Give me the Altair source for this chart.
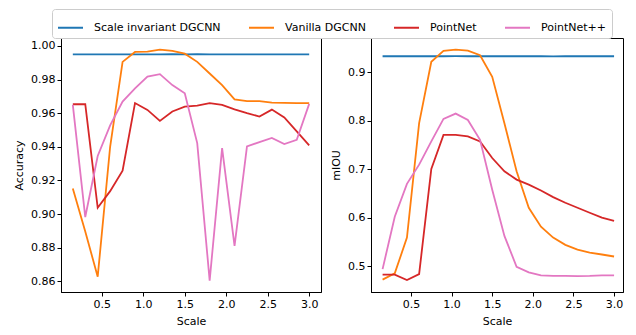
import altair as alt
import pandas as pd

scale = [0.15, 0.3, 0.45, 0.6, 0.75, 0.9, 1.05, 1.2, 1.35, 1.5,
         1.65, 1.8, 1.95, 2.1, 2.25, 2.4, 2.55, 2.7, 2.85, 3.0]

series = ["Scale invariant DGCNN", "Vanilla DGCNN", "PointNet", "PointNet++"]
colors = ["#1f77b4", "#ff7f0e", "#d62728", "#e377c2"]

acc_si = [0.9950, 0.9950, 0.9949, 0.9950, 0.9950, 0.9949, 0.9950, 0.9950, 0.9951, 0.9950,
          0.9951, 0.9949, 0.9950, 0.9949, 0.9950, 0.9950, 0.9949, 0.9950, 0.9950, 0.9950]
acc_vanilla = [0.9151, 0.8896, 0.8627, 0.9400, 0.9905, 0.9964, 0.9966, 0.9978, 0.9970, 0.9954,
               0.9905, 0.9836, 0.9767, 0.9682, 0.9672, 0.9672, 0.9663, 0.9661, 0.9660, 0.9660]
acc_pointnet = [0.9653, 0.9653, 0.9037, 0.9136, 0.9258, 0.9660, 0.9619, 0.9554, 0.9610, 0.9639,
                0.9645, 0.9659, 0.9649, 0.9623, 0.9600, 0.9580, 0.9621, 0.9574, 0.9491, 0.9408]
acc_pp = [0.9649, 0.8982, 0.9345, 0.9527, 0.9669, 0.9747, 0.9817, 0.9832, 0.9767, 0.9718,
          0.9422, 0.8604, 0.9392, 0.8811, 0.9402, 0.9428, 0.9453, 0.9416, 0.9441, 0.9655]

miou_si = [0.9335, 0.9335, 0.9335, 0.9335, 0.9335, 0.9335, 0.9336, 0.9335, 0.9335, 0.9335,
           0.9335, 0.9335, 0.9335, 0.9335, 0.9334, 0.9335, 0.9335, 0.9335, 0.9335, 0.9335]
miou_vanilla = [0.4723, 0.4852, 0.5590, 0.7953, 0.9220, 0.9445, 0.9472, 0.9452, 0.9356, 0.8910,
                0.7953, 0.6960, 0.6207, 0.5817, 0.5591, 0.5441, 0.5345, 0.5283, 0.5242, 0.5201]
miou_pointnet = [0.4825, 0.4825, 0.4715, 0.4838, 0.7008, 0.7713, 0.7713, 0.7680, 0.7577, 0.7234,
                 0.6960, 0.6789, 0.6686, 0.6563, 0.6427, 0.6310, 0.6207, 0.6105, 0.6002, 0.5934]
miou_pp = [0.4940, 0.6023, 0.6700, 0.7097, 0.7577, 0.8041, 0.8151, 0.8021, 0.7610, 0.6580,
           0.5626, 0.4990, 0.4873, 0.4810, 0.4800, 0.4800, 0.4797, 0.4800, 0.4810, 0.4810]

x_ticks = [0.5, 1.0, 1.5, 2.0, 2.5, 3.0]
acc_ticks = [0.86, 0.88, 0.90, 0.92, 0.94, 0.96, 0.98, 1.00]
miou_ticks = [0.5, 0.6, 0.7, 0.8, 0.9]


def long(vals_list):
    rows = []
    for name, vals in zip(series, vals_list):
        for x, v in zip(scale, vals):
            rows.append({"Scale": x, "value": v, "Model": name})
    return pd.DataFrame(rows)


df_acc = long([acc_si, acc_vanilla, acc_pointnet, acc_pp])
df_miou = long([miou_si, miou_vanilla, miou_pointnet, miou_pp])

color = alt.Color(
    "Model:N",
    scale=alt.Scale(domain=series, range=colors),
    legend=alt.Legend(
        title=None, orient="none", legendX=-9, legendY=-29,
        direction="horizontal", columns=4,
        symbolType="stroke", symbolSize=625, symbolStrokeWidth=2,
        labelFontSize=11, labelFont="DejaVu Sans", labelColor="black",
        strokeColor="#cccccc", cornerRadius=3, padding=5, fillColor="white",
        columnPadding=24, labelOffset=10,
    ),
)

left = alt.Chart(df_acc).mark_line(strokeWidth=1.8, clip=True).encode(
    x=alt.X("Scale:Q", scale=alt.Scale(domain=[0.0075, 3.1425], nice=False, zero=False),
            axis=alt.Axis(values=x_ticks, format=".1f", title="Scale")),
    y=alt.Y("value:Q", scale=alt.Scale(domain=[0.8536, 1.0047], nice=False, zero=False),
            axis=alt.Axis(values=acc_ticks, format=".2f", title="Accuracy")),
    color=color,
).properties(width=260, height=254)

right = alt.Chart(df_miou).mark_line(strokeWidth=1.8, clip=True).encode(
    x=alt.X("Scale:Q", scale=alt.Scale(domain=[0.0075, 3.11], nice=False, zero=False),
            axis=alt.Axis(values=x_ticks, format=".1f", title="Scale")),
    y=alt.Y("value:Q", scale=alt.Scale(domain=[0.4468, 0.9712], nice=False, zero=False),
            axis=alt.Axis(values=miou_ticks, format=".1f", title="mIOU")),
    color=color,
).properties(width=252, height=254)

chart = alt.hconcat(left, right, spacing=8).properties(
    padding={"left": 5, "top": 0, "right": 0, "bottom": 0}
).configure_view(
    stroke="black", strokeWidth=1
).configure_axis(
    grid=False, domainColor="black", tickColor="black", labelColor="black",
    titleColor="black", labelFont="DejaVu Sans", titleFont="DejaVu Sans",
    labelFontSize=11, titleFontSize=11, titleFontWeight="normal",
    tickSize=4, labelPadding=2, titlePadding=6,
)

chart.save("out.html", embed_options={"renderer": "svg", "actions": False})
